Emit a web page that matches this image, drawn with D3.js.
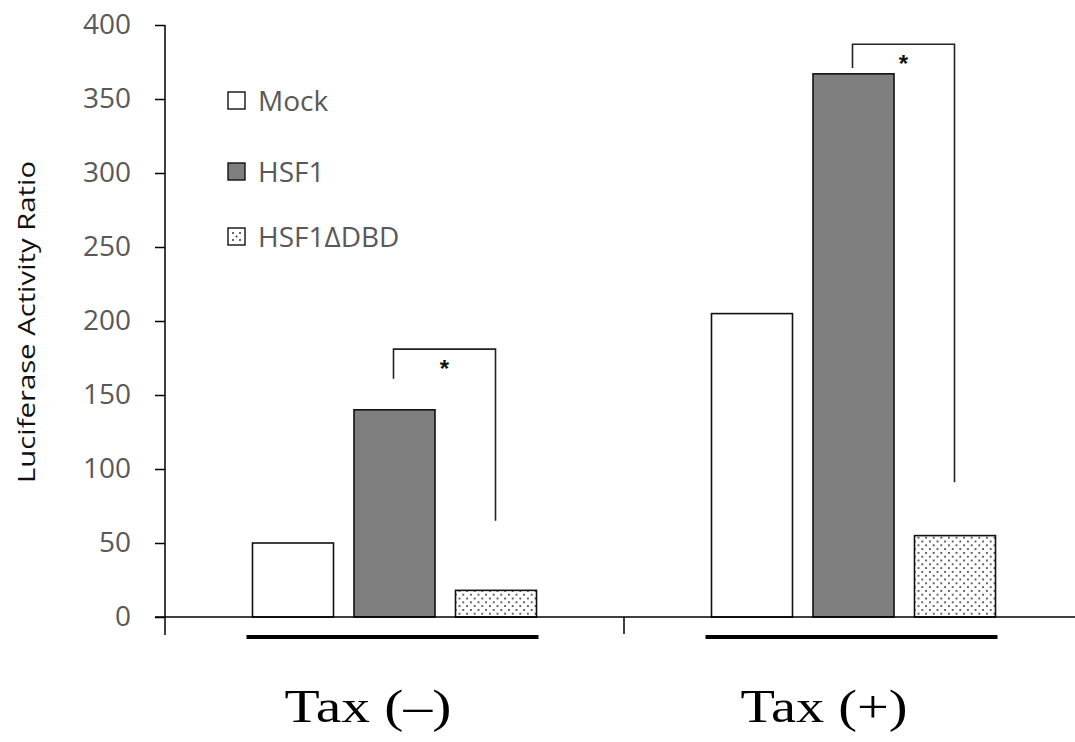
<!DOCTYPE html>
<html>
<head>
<meta charset="utf-8">
<script src="https://cdn.jsdelivr.net/npm/d3@7"></script>
<style>
  html, body { margin: 0; padding: 0; background: #fff; }
  svg { display: block; }
</style>
</head>
<body>
<svg id="chart" width="1075" height="742"></svg>
<script>
// Groups along the x axis and the constructs within each group
const groups = ["Tax (–)", "Tax (+)"];
const constructs = ["Mock", "HSF1", "HSF1ΔDBD"];

// Luciferase activity ratio per construct, one array per group
const taxNeg = [50, 140, 18];
const taxPos = [205, 367, 55];

const yTicks = [0, 50, 100, 150, 200, 250, 300, 350, 400];

// Significance brackets between HSF1 and HSF1ΔDBD in each group
const bracketTop = [181, 387];
const bracketLeftEnd = [161, 371];
const bracketRightEnd = [65, 91];

const svg = d3.select("#chart");

const y = d3.scaleLinear().domain([0, 400]).range([617, 25]);
const x0 = d3.scaleBand().domain(groups).range([165, 1083]).paddingInner(0).paddingOuter(0);
const x1 = d3.scaleBand().domain(constructs).range([0, x0.bandwidth()]).paddingInner(0.202).paddingOuter(0.862);

// Dotted fill for HSF1ΔDBD
const defs = svg.append("defs");
const pat = defs.append("pattern")
  .attr("id", "dots").attr("patternUnits", "userSpaceOnUse")
  .attr("width", 7.6).attr("height", 7.6);
pat.append("rect").attr("width", 7.6).attr("height", 7.6).attr("fill", "#fff");
pat.append("circle").attr("cx", 1.9).attr("cy", 1.9).attr("r", 1).attr("fill", "#333");
pat.append("circle").attr("cx", 5.7).attr("cy", 5.7).attr("r", 1).attr("fill", "#333");

const fills = { "Mock": "#ffffff", "HSF1": "#7f7f7f", "HSF1ΔDBD": "url(#dots)" };

const sans = "'Open Sans', 'Liberation Sans', sans-serif";

// Y axis
const yAxis = d3.axisLeft(y).tickValues(yTicks).tickSize(10).tickPadding(24);
const gy = svg.append("g").attr("transform", "translate(165,0)").call(yAxis);
gy.select(".domain").remove();
gy.selectAll(".tick line").attr("stroke", "#000").attr("stroke-width", 1.5);
gy.selectAll(".tick text")
  .attr("font-family", sans)
  .attr("font-size", 28).attr("fill", "#595959");
svg.append("line").attr("x1", 165).attr("x2", 165).attr("y1", y(400)).attr("y2", 635)
  .attr("stroke", "#000").attr("stroke-width", 1.5);

// Bars
const data = [taxNeg, taxPos];
groups.forEach((g, gi) => {
  const gg = svg.append("g").attr("transform", `translate(${x0(g)},0)`);
  gg.selectAll("rect").data(constructs).join("rect")
    .attr("x", d => x1(d))
    .attr("width", x1.bandwidth())
    .attr("y", (d, i) => y(data[gi][i]))
    .attr("height", (d, i) => y(0) - y(data[gi][i]))
    .attr("fill", d => fills[d])
    .attr("stroke", "#111").attr("stroke-width", 1.6);
});

// X axis line and group divider tick
svg.append("line").attr("x1", 155).attr("x2", 1075).attr("y1", y(0)).attr("y2", y(0))
  .attr("stroke", "#000").attr("stroke-width", 1.5);
svg.append("line").attr("x1", x0(groups[1])).attr("x2", x0(groups[1]))
  .attr("y1", y(0)).attr("y2", 634).attr("stroke", "#000").attr("stroke-width", 1.5);

// Group underlines
groups.forEach(g => {
  svg.append("line")
    .attr("x1", x0(g) + x1("Mock") - 6)
    .attr("x2", x0(g) + x1("HSF1ΔDBD") + x1.bandwidth() + 2)
    .attr("y1", 637).attr("y2", 637)
    .attr("stroke", "#000").attr("stroke-width", 4);
});

// Significance brackets
groups.forEach((g, gi) => {
  const xl = x0(g) + x1("HSF1") + x1.bandwidth() / 2 - 1;
  const xr = x0(g) + x1("HSF1ΔDBD") + x1.bandwidth() / 2 - 0.5;
  svg.append("path")
    .attr("d", `M${xl},${y(bracketLeftEnd[gi])}V${y(bracketTop[gi])}H${xr}V${y(bracketRightEnd[gi])}`)
    .attr("fill", "none").attr("stroke", "#222").attr("stroke-width", 1.6);
  svg.append("text")
    .attr("x", (xl + xr) / 2).attr("y", y(bracketTop[gi]) + 28)
    .attr("text-anchor", "middle")
    .attr("font-family", "'Liberation Sans', sans-serif")
    .attr("font-size", 24).attr("font-weight", "bold").attr("fill", "#111")
    .text("*");
});

// Legend
const legend = svg.append("g").attr("transform", "translate(228,0)");
const legendY = [101, 172, 237];
constructs.forEach((c, i) => {
  legend.append("rect")
    .attr("x", 0).attr("y", legendY[i] - 9).attr("width", 17).attr("height", 17)
    .attr("fill", c === "HSF1ΔDBD" ? "#fff" : fills[c])
    .attr("stroke", "#111").attr("stroke-width", 1.4);
  if (c === "HSF1ΔDBD") {
    [[5, 5], [12, 5], [5, 12], [12, 12], [8.5, 8.5]].forEach(p => {
      legend.append("circle").attr("cx", p[0]).attr("cy", legendY[i] - 9 + p[1])
        .attr("r", 1).attr("fill", "#333");
    });
  }
  legend.append("text")
    .attr("x", 30).attr("y", legendY[i] + 10)
    .attr("font-family", sans)
    .attr("font-size", 28).attr("fill", "#595959")
    .text(c);
});

// Y axis title
svg.append("text")
  .attr("transform", "translate(35,322) rotate(-90)")
  .attr("text-anchor", "middle")
  .attr("font-family", sans)
  .attr("font-size", 23).attr("fill", "#111")
  .attr("textLength", 322).attr("lengthAdjust", "spacingAndGlyphs")
  .text("Luciferase Activity Ratio");

// Group labels
const labelX = [368, 824];
groups.forEach((g, gi) => {
  svg.append("text")
    .attr("x", labelX[gi]).attr("y", 722)
    .attr("text-anchor", "middle")
    .attr("font-family", "'Liberation Serif', 'DejaVu Serif', serif")
    .attr("font-size", 46).attr("fill", "#000")
    .attr("textLength", 167).attr("lengthAdjust", "spacingAndGlyphs")
    .text(g);
});
</script>
</body>
</html>
